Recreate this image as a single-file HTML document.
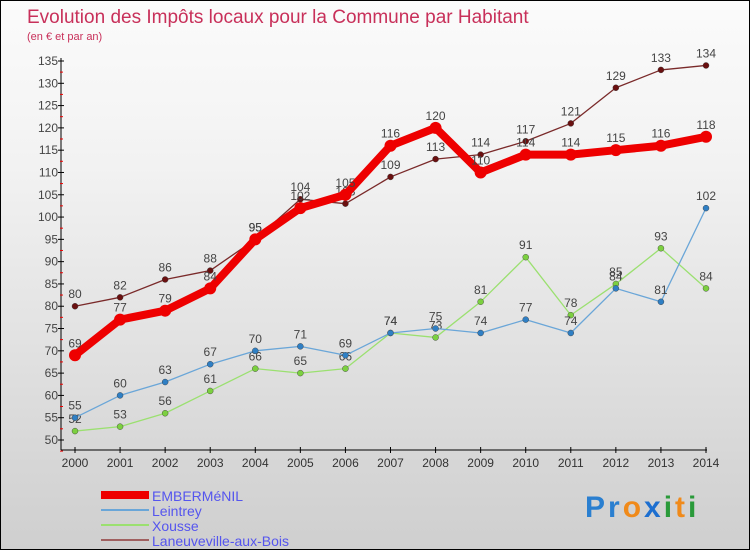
<!DOCTYPE html>
<html><head><meta charset="utf-8"><style>
body{margin:0;}
#wrap{position:relative;width:748px;height:548px;border:1px solid #000;background:linear-gradient(#fbfbfb,#f2f2f2 30%,#d6d6d6 85%,#cfcfcf);font-family:"Liberation Sans",sans-serif;overflow:hidden}
</style></head><body>
<div id="wrap">
<svg id="svg" width="748" height="548">
<text x="26" y="22" font-size="19" fill="#c8305a">Evolution des Impôts locaux pour la Commune par Habitant</text>
<text x="26" y="39" font-size="11" fill="#c8305a">(en € et par an)</text>
<g id="axes"></g><g id="series"></g><g id="legend"></g>
<text x="584" y="516" font-size="30" font-weight="bold" letter-spacing="3"><tspan fill="#2a7fd0">Pr</tspan><tspan fill="#f08a1a">o</tspan><tspan fill="#1d6fd0">x</tspan><tspan fill="#2a9a3a">i</tspan><tspan fill="#f08a1a">t</tspan><tspan fill="#2a9a3a">i</tspan></text>
</svg>
</div>
<script>
const years=[2000,2001,2002,2003,2004,2005,2006,2007,2008,2009,2010,2011,2012,2013,2014];
const yTicks=[50,55,60,65,70,75,80,85,90,95,100,105,110,115,120,125,130,135];
const emberValues=[69,77,79,84,95,102,105,116,120,110,114,114,115,116,118];
const leintreyValues=[55,60,63,67,70,71,69,74,75,74,77,74,84,81,102];
const xousseValues=[52,53,56,61,66,65,66,74,73,81,91,78,85,93,84];
const laneuvevilleValues=[80,82,86,88,95,104,103,109,113,114,117,121,129,133,134];
const seriesNames=["EMBERMéNIL","Leintrey","Xousse","Laneuveville-aux-Bois"];
const NS="http://www.w3.org/2000/svg";
const xS=i=>74+i*(705-74)/(years.length-1);
const yS=v=>439-(v-50)*(439-60)/85;
function mk(tag,attrs,parent){const e=document.createElementNS(NS,tag);for(const k in attrs)e.setAttribute(k,attrs[k]);parent.appendChild(e);return e;}
const ax=document.getElementById('axes');
let l=mk('line',{x1:60,y1:57,x2:60,y2:449,stroke:'#000'},ax);


l=mk('line',{x1:60,y1:449,x2:706,y2:449,stroke:'#000'},ax);


yTicks.forEach(v=>{const y=yS(v);
 mk('line',{x1:57,y1:y,x2:63,y2:y,stroke:'#000'},ax);
 mk('line',{x1:59,y1:y+11.1,x2:62,y2:y+11.1,stroke:'#e00'},ax);
 const t=mk('text',{x:57,y:y+4,'font-size':12,fill:'#444','text-anchor':'end'},ax);t.textContent=v;
 
 });
years.forEach((yr,i)=>{const x=xS(i);
 mk('line',{x1:x,y1:446,x2:x,y2:452,stroke:'#000'},ax);
 const t=mk('text',{x:x,y:466,'font-size':12,fill:'#333','text-anchor':'middle'},ax);t.textContent=yr;
 
 });
const sg=document.getElementById('series');
const defs=[
 {vals:laneuvevilleValues,c:'#7a2a2a',dot:'#6a1010',w:1.3,r:3},
 {vals:xousseValues,c:'#9be070',dot:'#7cd040',w:1.3,r:3},
 {vals:leintreyValues,c:'#6aa6d8',dot:'#2f7fc4',w:1.3,r:3},
 {vals:emberValues,c:'#ee0000',dot:'#ee0000',w:8,r:6}];
const names=['laneuveville','xousse','leintrey','embermenil'];
defs.forEach((d,k)=>{const g=mk('g',{},sg);
 
 
 const p=mk('polyline',{points:d.vals.map((v,i)=>xS(i)+','+yS(v)).join(' '),fill:'none',stroke:d.c,'stroke-width':d.w,'stroke-linejoin':'round'},g);
 
 
 d.vals.forEach((v,i)=>{const c=mk('circle',{cx:xS(i),cy:yS(v),r:d.r,fill:d.dot,stroke:k==3?'none':'#333','stroke-width':0.4},g);
  
  
  const t=mk('text',{x:xS(i),y:yS(v)-8,'font-size':12,fill:'#444','text-anchor':'middle'},g);t.textContent=v;
  
  });});
const lg=document.getElementById('legend');
const lc=['#ee0000','#6aa6d8','#9be070','#a06060'],lw=[8,2,2,2];
seriesNames.forEach((n,i)=>{const y=494+i*15;
 const g=mk('g',{},lg);
 
 
 mk('line',{x1:100,y1:y,x2:148,y2:y,stroke:lc[i],'stroke-width':lw[i]},g);
 const t=mk('text',{x:151,y:y+6,'font-size':14,fill:'#5555ee'},g);t.textContent=n;});
</script>
</body></html>
